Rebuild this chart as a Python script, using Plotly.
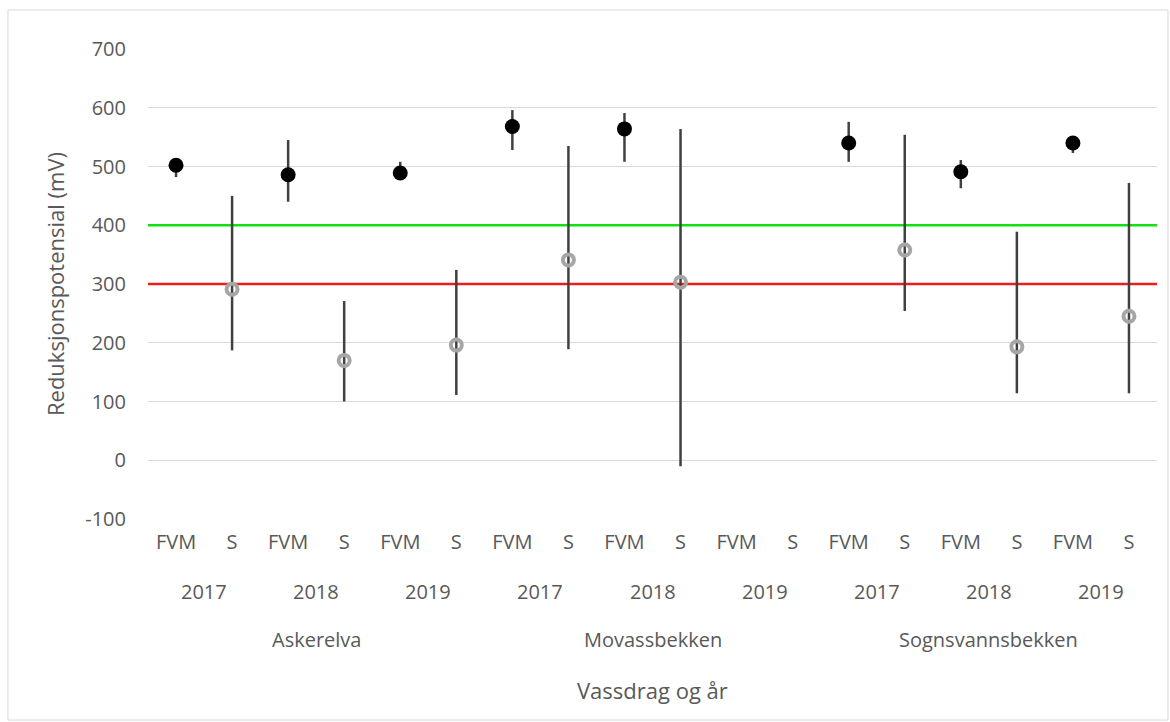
import plotly.graph_objects as go

# Sites, years and sampling types along the x axis
rivers = ["Askerelva", "Movassbekken", "Sognsvannsbekken"]
years = ["2017", "2018", "2019"]
types = ["FVM", "S"]

# Mean redox potential (mV) with upper/lower extremes; None = not measured
fvm_mean = [502, 486, 489, 568, 564, None, 540, 491, 540]
fvm_high = [510, 545, 508, 596, 591, None, 576, 511, 550]
fvm_low = [482, 440, 480, 528, 508, None, 508, 463, 523]

s_mean = [291, 170, 196, 341, 303, None, 358, 193, 245]
s_high = [450, 271, 324, 535, 564, None, 554, 389, 472]
s_low = [187, 100, 111, 189, -10, None, 254, 114, 114]

# Threshold lines (mV)
upper_limit = 400
lower_limit = 300

# y axis ticks
y_ticks = [-100, 0, 100, 200, 300, 400, 500, 600, 700]
y_tick_text = ["-100", "0", "100", "200", "300", "400", "500", "600", "700"]

TEXT = "#595959"
FONT = "Open Sans"
FS = 20
FS_TITLE = 22

n_groups = len(rivers) * len(years)
n_cats = 2 * n_groups
x_fvm = [2 * i for i in range(n_groups)]
x_s = [2 * i + 1 for i in range(n_groups)]
x_span = [-0.5, n_cats - 0.5]


def spans(mean, high, low):
    plus = [None if m is None else h - m for m, h in zip(mean, high)]
    minus = [None if m is None else m - l for m, l in zip(mean, low)]
    return plus, minus


fig = go.Figure()

# Threshold lines drawn as traces so they sit above the grid, below the markers
for y0, col in [(upper_limit, "#14e014"), (lower_limit, "#ee1c1c")]:
    fig.add_trace(go.Scatter(x=x_span, y=[y0, y0], mode="lines",
                             line=dict(color=col, width=2.5), hoverinfo="skip"))

p, m = spans(fvm_mean, fvm_high, fvm_low)
fig.add_trace(go.Scatter(
    x=x_fvm, y=fvm_mean, mode="markers", name="FVM",
    marker=dict(symbol="circle", size=15, color="black"),
    error_y=dict(type="data", symmetric=False, array=p, arrayminus=m,
                 color="#404040", thickness=2.5, width=0),
))

p, m = spans(s_mean, s_high, s_low)
fig.add_trace(go.Scatter(
    x=x_s, y=s_mean, mode="markers", name="S",
    marker=dict(symbol="circle-open", size=11, color="#a6a6a6",
                line=dict(width=4, color="#a6a6a6")),
    error_y=dict(type="data", symmetric=False, array=p, arrayminus=m,
                 color="#404040", thickness=2.5, width=0),
))

# Year and river labels below the sampling-type ticks
annotations = []
for i in range(n_groups):
    annotations.append(dict(x=2 * i + 0.5, y=-0.155, xref="x", yref="paper",
                            yanchor="middle", text=years[i % len(years)],
                            showarrow=False,
                            font=dict(family=FONT, size=FS, color=TEXT)))
for r, name in enumerate(rivers):
    annotations.append(dict(x=6 * r + 2.5, y=-0.257, xref="x", yref="paper",
                            yanchor="middle", text=name, showarrow=False,
                            font=dict(family=FONT, size=FS, color=TEXT)))
annotations.append(dict(x=0.5, y=-0.364, xref="paper", yref="paper",
                        yanchor="middle", text="Vassdrag og år", showarrow=False,
                        font=dict(family=FONT, size=FS_TITLE, color=TEXT)))

fig.add_shape(type="rect", xref="paper", yref="paper",
              x0=-0.1388, x1=1.0109, y0=-0.4277, y1=1.083,
              line=dict(color="#d9d9d9", width=1))

fig.update_layout(
    width=1170, height=722,
    margin=dict(l=148, r=13, t=49, b=203),
    paper_bgcolor="white", plot_bgcolor="white",
    showlegend=False,
    font=dict(family=FONT, size=FS, color=TEXT),
    annotations=annotations,
    xaxis=dict(
        range=x_span,
        tickmode="array",
        tickvals=list(range(n_cats)),
        ticktext=types * n_groups,
        showgrid=False, zeroline=False, showline=False,
        ticks="", ticklabelstandoff=9,
        tickfont=dict(family=FONT, size=FS, color=TEXT),
    ),
    yaxis=dict(
        range=[-100, 700],
        tickmode="array", tickvals=y_ticks, ticktext=y_tick_text,
        showgrid=True, gridcolor="#d9d9d9", gridwidth=1,
        zeroline=False, showline=False,
        ticks="", ticklabelstandoff=21,
        tickfont=dict(family=FONT, size=FS, color=TEXT),
        title=dict(text="Reduksjonspotensial (mV)", standoff=14,
                   font=dict(family=FONT, size=FS_TITLE, color=TEXT)),
    ),
)

fig.write_html("out.html")
